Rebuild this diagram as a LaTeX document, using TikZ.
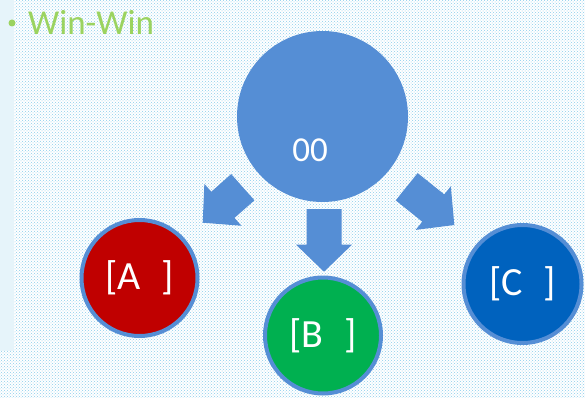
\documentclass[tikz,border=0pt]{standalone}
\usepackage{fontspec}
\setmainfont{Carlito}
\usetikzlibrary{calc,patterns}
\definecolor{patblue}{HTML}{8CCDEB}
\definecolor{bgstrip}{HTML}{E6F4FA}
\definecolor{accent}{HTML}{558ED5}
\definecolor{titlegreen}{HTML}{9BD35F}
\definecolor{cred}{HTML}{C00000}
\definecolor{cgreen}{HTML}{00B050}
\definecolor{cblue}{HTML}{0062BE}
\newcommand\blockarr[2]{%
  \coordinate (hb) at ($(#2)!27pt!(#1)$);
  \fill[accent] ($(#1)!17.5pt!90:(#2)$) -- ($(hb)!17.5pt!90:(#2)$) -- ($(hb)!28pt!90:(#2)$) -- (#2)
    -- ($(hb)!28pt!-90:(#2)$) -- ($(hb)!17.5pt!-90:(#2)$) -- ($(#1)!17.5pt!-90:(#2)$) -- cycle;}
\tikzset{
  smallcirc/.style={circle, draw=accent, line width=4pt, minimum size=116pt, inner sep=0pt,
    text=white, font=\fontsize{40}{44}\selectfont},
  bigcirc/.style={circle, fill=accent, minimum size=171pt, inner sep=0pt},
  lbl/.style={text=white, inner sep=0pt, font=\fontsize{35}{38}\selectfont}
}
\begin{document}
\begin{tikzpicture}[x=1pt, y=-1pt]
\useasboundingbox (0,0) rectangle (585,398);
\fill[white] (0,0) rectangle (585,398);
\fill[pattern=crosshatch dots, pattern color=patblue] (0,0) rectangle (585,398);
\fill[bgstrip] (0,0) rectangle (14,351);
% title
\fill[titlegreen] (12,23) circle (3.5);
\node[anchor=base west, inner sep=0pt, text=titlegreen, font=\fontsize{35}{40}\selectfont] (title) at (28,35) {Win-Win};
% main circle
\node[bigcirc] (main) at (322.5,116.5) {};
\node[lbl] (zz) at (310,150) {00};
% arrows
\coordinate (la) at (242.8,187.2); \coordinate (lt) at (202.7,222.7);
\coordinate (da) at (324,209);     \coordinate (dt) at (324,271.7);
\coordinate (ra) at (406.7,186.7); \coordinate (rt) at (454.3,225);
\blockarr{la}{lt}
\blockarr{da}{dt}
\blockarr{ra}{rt}
% circles
\node[smallcirc, fill=cred] (a) at (139.5,278) {[A\hspace{21pt}]};
\node[smallcirc, fill=cgreen] (b) at (323,335.5) {[B\hspace{21pt}]};
\node[smallcirc, fill=cblue, minimum size=118pt] (c) at (522.5,284) {[C\hspace{21pt}]};
\end{tikzpicture}
\end{document}
